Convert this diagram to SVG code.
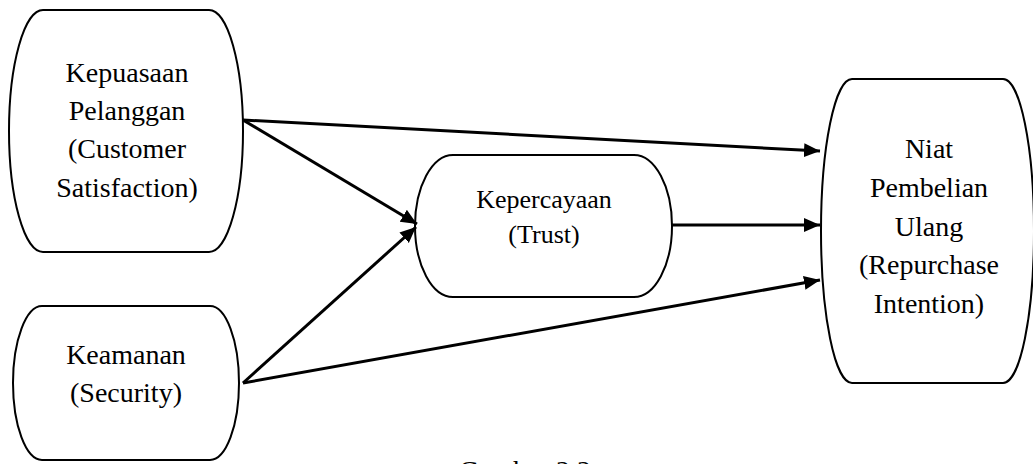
<svg xmlns="http://www.w3.org/2000/svg" width="1033" height="464" viewBox="0 0 1033 464">
<defs>
<style>
.node{fill:#fff;stroke:#000;stroke-width:2}
.t{font-family:"Liberation Serif","Times New Roman",serif;font-size:28px;fill:#000;text-anchor:middle}
.t2{font-size:26px}
.edge{stroke:#000;stroke-width:3;fill:none}
</style>
<marker id="ah" markerUnits="userSpaceOnUse" markerWidth="17" markerHeight="15" refX="16" refY="7" orient="auto">
<path d="M0,0 L16,7 L0,14 z" fill="#000"/>
</marker>
</defs>
<rect width="1033" height="464" fill="#fff"/>
<g id="n1">
<rect class="node" x="9" y="10" width="234" height="242" rx="34" ry="121"/>
<text class="t" x="127" y="82">Kepuasaan</text>
<text class="t" x="127" y="120">Pelanggan</text>
<text class="t" x="127" y="158">(Customer</text>
<text class="t" x="127" y="197">Satisfaction)</text>
</g>
<g id="n2">
<rect class="node" x="13" y="306" width="226" height="154" rx="29" ry="77"/>
<text class="t" x="126" y="364">Keamanan</text>
<text class="t" x="126" y="402">(Security)</text>
</g>
<g id="n3">
<rect class="node" x="415" y="155" width="257" height="142" rx="38" ry="71"/>
<text class="t t2" x="544" y="208">Kepercayaan</text>
<text class="t t2" x="544" y="243">(Trust)</text>
</g>
<g id="n4">
<rect class="node" x="821" y="79" width="213" height="304" rx="31" ry="152"/>
<text class="t" x="929" y="158">Niat</text>
<text class="t" x="929" y="197">Pembelian</text>
<text class="t" x="929" y="236">Ulang</text>
<text class="t" x="929" y="274">(Repurchase</text>
<text class="t" x="929" y="313">Intention)</text>
</g>
<g id="edges">
<line class="edge" x1="243" y1="120" x2="820" y2="151" marker-end="url(#ah)"/>
<line class="edge" x1="243" y1="120" x2="417" y2="224" marker-end="url(#ah)"/>
<line class="edge" x1="243" y1="383" x2="416" y2="227" marker-end="url(#ah)"/>
<line class="edge" x1="243" y1="383" x2="820" y2="280" marker-end="url(#ah)"/>
<line class="edge" x1="672" y1="225" x2="820" y2="225" marker-end="url(#ah)"/>
</g>
<text class="t" x="525" y="480">Gambar 2.2</text>
</svg>
